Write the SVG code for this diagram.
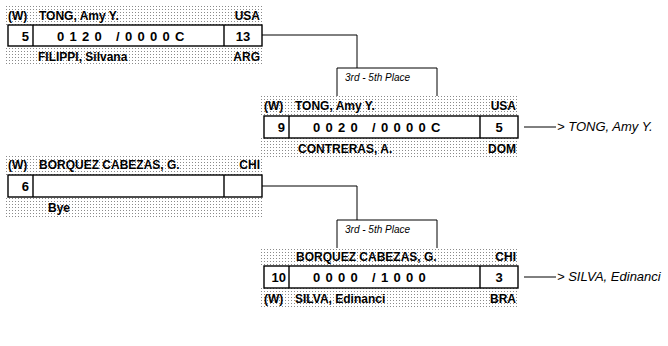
<svg xmlns="http://www.w3.org/2000/svg" width="668" height="346" viewBox="0 0 668 346">
<defs>
<pattern id="dots" width="3" height="3" patternUnits="userSpaceOnUse">
<rect width="3" height="3" fill="#ffffff"/>
<rect x="0" y="0" width="1" height="1" fill="#8a8a8a"/>
</pattern>
<style>
.band{fill:url(#dots);}
.box{fill:#fff;stroke:#000;stroke-width:1.4;}
.div{stroke:#000;stroke-width:1.4;}
.t{font-family:"Liberation Sans",Arial,sans-serif;font-weight:bold;font-size:12px;fill:#000;}
.n{font-family:"Liberation Sans",Arial,sans-serif;font-weight:bold;font-size:13px;fill:#000;}
.sp{letter-spacing:5.3px;}
.lab{font-family:"Liberation Sans",Arial,sans-serif;font-style:italic;font-size:10px;fill:#000;}
.res{font-family:"Liberation Sans",Arial,sans-serif;font-style:italic;font-size:13px;fill:#000;}
.ln{fill:none;stroke:#000;stroke-width:1;}
.e{text-anchor:end;}
.m{text-anchor:middle;}
</style>
</defs>
<rect width="668" height="346" fill="#fff"/>

<g id="connectors">
<polyline class="ln" points="262,35 357,35 357,68"/>
<polyline class="ln" points="262,186 357,186 357,220"/>
<polyline class="ln" points="337,96 337,68 437,68 437,96"/>
<polyline class="ln" points="337,248 337,220 437,220 437,248"/>
<line class="ln" x1="524" y1="127" x2="556" y2="127"/>
<line class="ln" x1="524" y1="277" x2="556" y2="277"/>
</g>

<g id="label1"><text class="lab" x="345" y="81">3rd - 5th Place</text></g>
<g id="label2"><text class="lab" x="345" y="233">3rd - 5th Place</text></g>

<g id="matchA">
<rect class="band" x="5" y="6" width="258" height="19"/>
<rect class="band" x="5" y="46" width="258" height="20"/>
<rect class="box" x="8" y="25" width="254" height="21"/>
<line class="div" x1="33" y1="25" x2="33" y2="46"/>
<line class="div" x1="224" y1="25" x2="224" y2="46"/>
<text class="t" x="8" y="20">(W)</text>
<text class="t" x="39" y="20">TONG, Amy Y.</text>
<text class="t e" x="260" y="20">USA</text>
<text class="n e" x="29" y="40.5">5</text>
<text class="n sp" x="57" y="40.5">0120  /0000C</text>
<text class="n m" x="243" y="40.5">13</text>
<text class="t" x="38" y="61">FILIPPI, Silvana</text>
<text class="t e" x="260" y="61">ARG</text>
</g>

<g id="matchB">
<rect class="band" x="261" y="96" width="258" height="20"/>
<rect class="band" x="261" y="138" width="258" height="20"/>
<rect class="box" x="264" y="116" width="254" height="22"/>
<line class="div" x1="289" y1="116" x2="289" y2="138"/>
<line class="div" x1="480" y1="116" x2="480" y2="138"/>
<text class="t" x="264" y="110">(W)</text>
<text class="t" x="295" y="110">TONG, Amy Y.</text>
<text class="t e" x="516" y="110">USA</text>
<text class="n e" x="285" y="132">9</text>
<text class="n sp" x="313" y="132">0020  /0000C</text>
<text class="n m" x="499" y="132">5</text>
<text class="t" x="298" y="153">CONTRERAS, A.</text>
<text class="t e" x="516" y="153">DOM</text>
</g>

<g id="resultB"><text class="res" x="557" y="131">&gt; TONG, Amy Y.</text></g>

<g id="matchC">
<rect class="band" x="5" y="155" width="258" height="20"/>
<rect class="band" x="5" y="197" width="258" height="20"/>
<rect class="box" x="8" y="175" width="254" height="22"/>
<line class="div" x1="33" y1="175" x2="33" y2="197"/>
<line class="div" x1="224" y1="175" x2="224" y2="197"/>
<text class="t" x="8" y="169">(W)</text>
<text class="t" x="39" y="169">BORQUEZ CABEZAS, G.</text>
<text class="t e" x="260" y="169">CHI</text>
<text class="n e" x="29" y="191">6</text>
<text class="t" x="48" y="212">Bye</text>
</g>

<g id="matchD">
<rect class="band" x="261" y="248" width="258" height="18"/>
<rect class="band" x="261" y="288" width="258" height="20"/>
<rect class="box" x="264" y="266" width="254" height="22"/>
<line class="div" x1="289" y1="266" x2="289" y2="288"/>
<line class="div" x1="480" y1="266" x2="480" y2="288"/>
<text class="t" x="296" y="261">BORQUEZ CABEZAS, G.</text>
<text class="t e" x="516" y="261">CHI</text>
<text class="n e" x="286" y="282">10</text>
<text class="n sp" x="313" y="282">0000  /1000</text>
<text class="n m" x="499" y="282">3</text>
<text class="t" x="264" y="303">(W)</text>
<text class="t" x="295" y="303">SILVA, Edinanci</text>
<text class="t e" x="516" y="303">BRA</text>
</g>

<g id="resultD"><text class="res" x="557" y="281">&gt; SILVA, Edinanci</text></g>
</svg>
